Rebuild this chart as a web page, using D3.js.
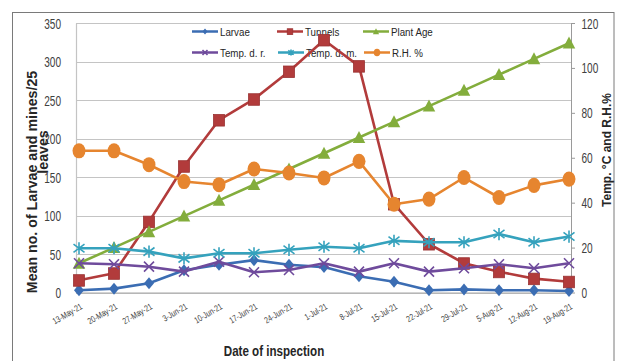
<!DOCTYPE html>
<html>
<head>
<meta charset="utf-8">
<script src="https://cdn.jsdelivr.net/npm/d3@7"></script>
<style>
  body { margin: 0; background: #fff; }
  svg { display: block; font-family: "Liberation Sans Narrow", "Liberation Sans", Arial, sans-serif; }
</style>
</head>
<body>
<svg id="chart" width="619" height="361"></svg>
<script>
// Weekly inspection dates
const dates = ["13-May-21","20-May-21","27-May-21","3-Jun-21","10-Jun-21","17-Jun-21","24-Jun-21",
               "1-Jul-21","8-Jul-21","15-Jul-21","22-Jul-21","29-Jul-21","5-Aug-21","12-Aug-21","19-Aug-21"];

// Primary axis series (mean no. per 25 leaves)
const larvae  = [3, 5, 12, 29, 36, 42, 36, 33, 21, 14, 3, 4, 3, 3, 2];
const tunnels = [16, 25, 92, 164, 224, 251, 287, 328, 294, 115, 63, 38, 27, 18, 14];

// Secondary axis series
const plantAge = [13, 20, 27, 34, 41, 48, 55, 62, 69, 76, 83, 90, 97, 104, 111];
const tempDR   = [13, 12.6, 11.5, 9.3, 13.7, 9, 10, 13, 9.3, 13, 9.3, 10.8, 12.6, 10.8, 13];
const tempDM   = [19.7, 19.7, 18.2, 15.2, 17.5, 17.5, 19, 20.4, 19.7, 23, 22.4, 22.4, 26, 22.4, 24.9];
const rh       = [63.1, 63.1, 56.9, 49.4, 48, 55, 53.2, 51, 58.4, 39.3, 41.6, 51.2, 42.3, 47.7, 50.5];

// Axis ticks
const leftTicks  = [0, 50, 100, 150, 200, 250, 300, 350];
const rightTicks = [0, 20, 40, 60, 80, 100, 120];

const svg = d3.select("#chart");
const plot = { left: 76, right: 571, top: 23, bottom: 292.5 };

const x  = d3.scalePoint().domain(dates).range([79, 569]);
const yL = d3.scaleLinear().domain([0, 350]).range([plot.bottom, plot.top]);
const yR = d3.scaleLinear().domain([0, 120]).range([plot.bottom, plot.top]);

// outer chart frame
svg.append("rect").attr("x", 12.5).attr("y", 12.5).attr("width", 601.5).attr("height", 360)
  .attr("fill", "#fff").attr("stroke", "#7a7a7a").attr("stroke-width", 1);

// horizontal gridlines
svg.append("g").selectAll("line").data(leftTicks).join("line")
  .attr("x1", plot.left).attr("x2", plot.right)
  .attr("y1", d => Math.round(yL(d)) + 0.5).attr("y2", d => Math.round(yL(d)) + 0.5)
  .attr("stroke", "#c4c4c4").attr("stroke-width", 1.2);

// left axis (labels only, with vertical plot edge)
const gL = svg.append("g").attr("transform", `translate(${plot.left},0)`)
  .call(d3.axisLeft(yL).tickValues(leftTicks).tickSize(0));
gL.select(".domain").attr("stroke", "#c4c4c4").attr("stroke-width", 1.2);
gL.selectAll("text").attr("x", 0).attr("dy", "0.36em")
  .attr("transform", "translate(-15,0) scale(0.72,1)")
  .attr("font-size", 14).attr("fill", "#404040")
  .style("font-family", '"Liberation Sans Narrow", "Liberation Sans", sans-serif');

// right axis
const gR = svg.append("g").attr("transform", `translate(${plot.right},0)`)
  .call(d3.axisRight(yR).tickValues(rightTicks).tickSize(4).tickSizeOuter(0));
gR.select(".domain").attr("stroke", "#9a9a9a").attr("stroke-width", 1);
gR.selectAll(".tick line").attr("stroke", "#9a9a9a");
gR.selectAll("text").attr("x", 0).attr("dy", "0.36em")
  .attr("transform", "translate(10.5,0) scale(0.72,1)")
  .attr("font-size", 14).attr("fill", "#404040")
  .style("font-family", '"Liberation Sans Narrow", "Liberation Sans", sans-serif');

// bottom axis
const gB = svg.append("g").attr("transform", `translate(0,${plot.bottom})`)
  .call(d3.axisBottom(x).tickSize(0).tickSizeOuter(0));
gB.select(".domain").attr("d", `M${plot.left},0.5H${plot.right}`)
  .attr("stroke", "#a8a8a8").attr("stroke-width", 1.2);
gB.selectAll("text").attr("x", 0).attr("y", 0).attr("dy", "0.35em")
  .attr("text-anchor", "end")
  .attr("transform", "translate(2,13) rotate(-30) scale(0.76,1)")
  .attr("font-size", 9).attr("fill", "#404040")
  .style("font-family", '"Liberation Sans Narrow", "Liberation Sans", sans-serif');

// axis titles
svg.append("text").attr("transform", "translate(274,356) scale(0.8,1)")
  .attr("text-anchor", "middle").attr("font-weight", "bold").attr("font-size", 14.5)
  .attr("fill", "#262626").style("font-family", '"Liberation Sans", Arial, sans-serif')
  .text("Date of inspection");

svg.append("text").attr("transform", "translate(36.5,182) rotate(-90)")
  .attr("text-anchor", "middle").attr("font-weight", "bold").attr("font-size", 14.2)
  .attr("fill", "#262626").style("font-family", '"Liberation Sans", Arial, sans-serif')
  .text("Mean no. of Larvae and mines/25");
svg.append("text").attr("transform", "translate(48,152) rotate(-90)")
  .attr("text-anchor", "middle").attr("font-weight", "bold").attr("font-size", 14.2)
  .attr("fill", "#262626").style("font-family", '"Liberation Sans", Arial, sans-serif')
  .text("leaves");

svg.append("text").attr("transform", "translate(611,150) rotate(-90)")
  .attr("text-anchor", "middle").attr("font-weight", "bold").attr("font-size", 12)
  .attr("fill", "#262626").style("font-family", '"Liberation Sans", Arial, sans-serif')
  .text("Temp. °C and R.H.%");

// marker shapes
function marker(g, type, color, s) {
  if (type === "diamond") {
    g.append("path").attr("d", `M0,${-s*0.6}L${s*0.5},0L0,${s*0.6}L${-s*0.5},0Z`).attr("fill", color);
  } else if (type === "square") {
    g.append("rect").attr("x", -s/2).attr("y", -s/2).attr("width", s).attr("height", s*1.05)
      .attr("fill", color).attr("stroke", d3.color(color).darker(0.4)).attr("stroke-width", 0.8);
  } else if (type === "triangle") {
    g.append("path").attr("d", `M0,${-s*0.55}L${s*0.52},${s*0.45}L${-s*0.52},${s*0.45}Z`).attr("fill", color);
  } else if (type === "x") {
    const r = s / 2;
    g.append("path").attr("d", `M${-r},${-r}L${r},${r}M${-r},${r}L${r},${-r}`)
      .attr("stroke", color).attr("stroke-width", 1.6).attr("fill", "none");
  } else if (type === "star") {
    const r = s / 2;
    g.append("path").attr("d", `M${-r},${-r*0.75}L${r},${r*0.75}M${-r},${r*0.75}L${r},${-r*0.75}M0,${-r*1.1}L0,${r*1.1}`)
      .attr("stroke", color).attr("stroke-width", 1.6).attr("fill", "none");
  } else if (type === "circle") {
    g.append("ellipse").attr("rx", s*0.48).attr("ry", s*0.56).attr("fill", color);
  }
}

const series = [
  { name: "Larvae",      values: larvae,   y: yL, color: "#3b6db3", type: "diamond",  size: 10 },
  { name: "Tunnels",     values: tunnels,  y: yL, color: "#b23b3b", type: "square",   size: 11 },
  { name: "Plant Age",   values: plantAge, y: yR, color: "#83ad3c", type: "triangle", size: 12 },
  { name: "Temp. d. r.", values: tempDR,   y: yR, color: "#6f4b9c", type: "x",        size: 10 },
  { name: "Temp. d. m.", values: tempDM,   y: yR, color: "#35a2bd", type: "star",     size: 11 },
  { name: "R.H. %",      values: rh,       y: yR, color: "#e6852f", type: "circle",   size: 13.5 }
];

// legend inside plot area
const legendPos = [[192, 31.5], [277, 31.5], [363, 31.5], [192, 52.5], [278, 52.5], [364, 52.5]];
series.forEach((s, i) => {
  const [lx, ly] = legendPos[i];
  const lg = svg.append("g").attr("transform", `translate(${lx},${ly})`);
  lg.append("line").attr("x1", 0).attr("x2", 26).attr("stroke", s.color).attr("stroke-width", 2.5);
  marker(lg.append("g").attr("transform", "translate(13,0)"), s.type, s.color, s.size * 0.5);
  lg.append("text").attr("transform", "translate(28,0) scale(0.85,1)").attr("dy", "0.35em")
    .attr("font-size", 11.5).attr("fill", "#262626").text(s.name);
});

// lines and markers
series.forEach(s => {
  const line = d3.line().x((d, i) => x(dates[i])).y(d => s.y(d));
  svg.append("path").datum(s.values).attr("d", line)
    .attr("fill", "none").attr("stroke", s.color).attr("stroke-width", 2.6)
    .attr("stroke-linejoin", "round");
  svg.append("g").selectAll("g").data(s.values).join("g")
    .attr("transform", (d, i) => `translate(${x(dates[i])},${s.y(d)})`)
    .each(function () { marker(d3.select(this), s.type, s.color, s.size); });
});
</script>
</body>
</html>
